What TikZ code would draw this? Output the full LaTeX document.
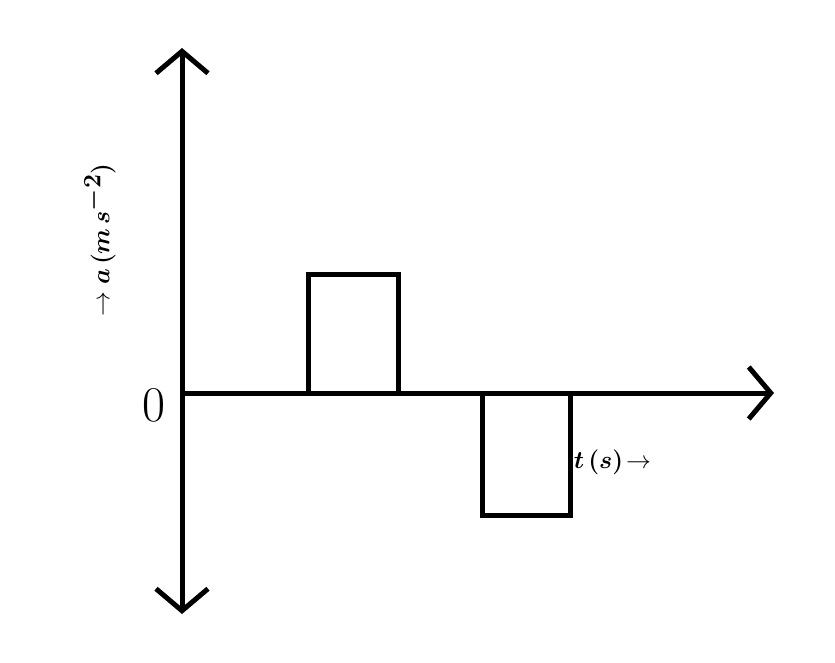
\documentclass[tikz,border=0pt]{standalone}
\usepackage{amsmath,bm}
\usetikzlibrary{arrows.meta}
\begin{document}
\begin{tikzpicture}[x=1pt,y=-1pt,line width=5pt,
  ax/.style={-{Straight Barb[length=22pt,width=52pt,line width=5pt]}},
  lab/.style={font=\fontsize{50}{58}\selectfont}]
\useasboundingbox (0,0) rectangle (835,663);
\coordinate (o) at (182,393);
\coordinate (top) at (182,48);
\coordinate (bot) at (182,614);
\coordinate (right) at (774,393);
\draw[ax] (o) -- (top);
\draw[ax] (o) -- (bot);
\draw[ax] (o) -- (right);
\draw (308,393) -- (308,274) -- (398,274) -- (398,393);
\draw (482,393) -- (482,515) -- (570,515) -- (570,393);
\node[lab] (zero) at (154,405) {0};
\node[lab,rotate=90] (ya) at (100,240) {$\rightarrow\bm{a\,(m\,s^{-2})}$};
\node[lab,anchor=west] (tl) at (568,462) {$\bm{t\,(s)}\!\rightarrow$};
\end{tikzpicture}
\end{document}
